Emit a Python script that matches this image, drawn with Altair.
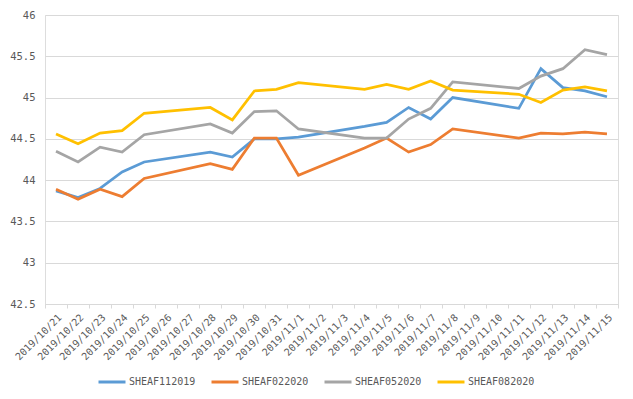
import altair as alt
import pandas as pd

all_dates = ["2019/10/21", "2019/10/22", "2019/10/23", "2019/10/24", "2019/10/25",
             "2019/10/26", "2019/10/27", "2019/10/28", "2019/10/29", "2019/10/30",
             "2019/10/31", "2019/11/1", "2019/11/2", "2019/11/3", "2019/11/4",
             "2019/11/5", "2019/11/6", "2019/11/7", "2019/11/8", "2019/11/9",
             "2019/11/10", "2019/11/11", "2019/11/12", "2019/11/13", "2019/11/14",
             "2019/11/15"]

trade_dates = ["2019/10/21", "2019/10/22", "2019/10/23", "2019/10/24", "2019/10/25",
               "2019/10/28", "2019/10/29", "2019/10/30", "2019/10/31", "2019/11/1",
               "2019/11/4", "2019/11/5", "2019/11/6", "2019/11/7", "2019/11/8",
               "2019/11/11", "2019/11/12", "2019/11/13", "2019/11/14", "2019/11/15"]

series_names = ["SHEAF112019", "SHEAF022020", "SHEAF052020", "SHEAF082020"]
series_colors = ["#5B9BD5", "#ED7D31", "#A5A5A5", "#FFC000"]

sheaf112019 = [43.87, 43.79, 43.90, 44.10, 44.22, 44.34, 44.28, 44.50, 44.50, 44.52,
               44.65, 44.70, 44.88, 44.74, 45.00, 44.87, 45.35, 45.12, 45.08, 45.01]
sheaf022020 = [43.89, 43.77, 43.89, 43.80, 44.02, 44.20, 44.13, 44.51, 44.51, 44.06,
               44.39, 44.51, 44.34, 44.43, 44.62, 44.51, 44.57, 44.56, 44.58, 44.56]
sheaf052020 = [44.35, 44.22, 44.40, 44.34, 44.55, 44.68, 44.57, 44.83, 44.84, 44.62,
               44.51, 44.51, 44.74, 44.87, 45.19, 45.11, 45.26, 45.35, 45.58, 45.52]
sheaf082020 = [44.56, 44.44, 44.57, 44.60, 44.81, 44.88, 44.73, 45.08, 45.10, 45.18,
               45.10, 45.16, 45.10, 45.20, 45.09, 45.04, 44.94, 45.09, 45.13, 45.08]

y_ticks = [42.5, 43, 43.5, 44, 44.5, 45, 45.5, 46]

rows = []
for name, vals in zip(series_names, [sheaf112019, sheaf022020, sheaf052020, sheaf082020]):
    for d, v in zip(trade_dates, vals):
        rows.append({"date": d, "idx": all_dates.index(d), "series": name, "value": v})
df = pd.DataFrame(rows)

FONT = "DejaVu Sans Mono"
TXT = "#595959"
GRID = "#D9D9D9"

chart = alt.Chart(df).mark_line(strokeWidth=2.75).encode(
    x=alt.X("date:O",
            scale=alt.Scale(type="band", domain=all_dates, paddingInner=0, paddingOuter=0),
            axis=alt.Axis(title=None, labelAngle=-45, tickBand="extent", ticks=True,
                          tickSize=4, tickColor=GRID, domainColor=GRID, grid=False,
                          labelFont=FONT, labelFontSize=10, labelColor=TXT,
                          labelPadding=4, labelOverlap=False)),
    y=alt.Y("value:Q",
            scale=alt.Scale(domain=[42.5, 46], nice=False, zero=False),
            axis=alt.Axis(title=None, values=y_ticks, format="~g", domain=False,
                          ticks=False, gridColor=GRID, labelFont=FONT,
                          labelFontSize=10.5, labelColor=TXT, labelPadding=10)),
    color=alt.Color("series:N",
                    scale=alt.Scale(domain=series_names, range=series_colors),
                    legend=alt.Legend(orient="none", legendX=52, legendY=352,
                                      direction="horizontal", columns=4, title=None,
                                      symbolType="stroke", symbolStrokeWidth=3,
                                      symbolSize=729, labelFont=FONT,
                                      labelFontSize=10, labelColor=TXT,
                                      labelOffset=2, columnPadding=9)),
    order=alt.Order("idx:Q"),
).properties(
    width=573, height=289, autosize="none",
    padding={"left": 37, "top": 7, "right": 7, "bottom": 87},
).configure_view(stroke=None).configure(background="white")

chart.save("out.html", embed_options={"renderer": "svg", "actions": False})
